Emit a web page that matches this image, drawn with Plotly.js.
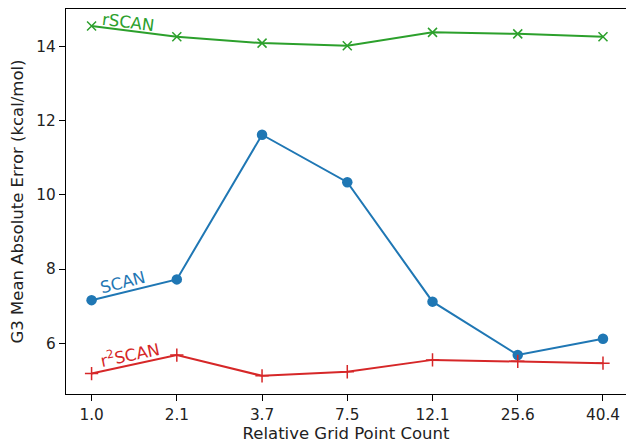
<!DOCTYPE html>
<html>
<head>
<meta charset="utf-8">
<script src="https://cdn.plot.ly/plotly-3.0.1.min.js"></script>
<style>html,body{margin:0;padding:0;background:#fff;}#chart{width:626px;height:443px;}</style>
</head>
<body>
<div id="chart"></div>
<script>
const categories = ["1.0", "2.1", "3.7", "7.5", "12.1", "25.6", "40.4"];
const rscan = [14.55, 14.26, 14.09, 14.02, 14.38, 14.34, 14.26];
const scan = [7.16, 7.72, 11.62, 10.34, 7.12, 5.68, 6.12];
const r2scan = [5.18, 5.68, 5.12, 5.23, 5.55, 5.51, 5.46];

const tickFont = {family: "DejaVu Sans", size: 15.3, color: "#222"};
const titleFont = {family: "DejaVu Sans", size: 16.5, color: "#222"};

const traces = [
  {x: categories, y: scan, type: "scatter", mode: "lines+markers", name: "SCAN",
   line: {color: "#1f77b4", width: 2}, marker: {symbol: "circle", size: 10.5, color: "#1f77b4"}},
  {x: categories, y: r2scan, type: "scatter", mode: "lines+markers", name: "r2SCAN",
   line: {color: "#d62728", width: 2}, marker: {symbol: "cross-thin", size: 9.5, line: {color: "#d62728", width: 1.5}}},
  {x: categories, y: rscan, type: "scatter", mode: "lines+markers", name: "rSCAN",
   line: {color: "#2ca02c", width: 2}, marker: {symbol: "x-thin", size: 9, line: {color: "#2ca02c", width: 1.5}}}
];

const layout = {
  width: 626, height: 443,
  margin: {l: 66, r: 0, t: 9, b: 49},
  paper_bgcolor: "#fff", plot_bgcolor: "#fff",
  showlegend: false,
  font: tickFont,
  xaxis: {
    type: "category", range: [-0.3, 6.27],
    showgrid: false, zeroline: false,
    showline: true, linecolor: "#000", linewidth: 1.2, mirror: true,
    ticks: "outside", ticklen: 6, tickwidth: 1, tickcolor: "#000",
    tickfont: tickFont,
    title: {text: "Relative Grid Point Count", font: titleFont, standoff: 4}
  },
  yaxis: {
    range: [4.63, 15.01],
    tickvals: [6, 8, 10, 12, 14],
    showgrid: false, zeroline: false,
    showline: true, linecolor: "#000", linewidth: 1.2,
    ticks: "outside", ticklen: 6, tickwidth: 1, tickcolor: "#000",
    tickfont: tickFont,
    title: {text: "G3 Mean Absolute Error (kcal/mol)", font: titleFont, standoff: 8}
  },
  annotations: [
    {x: 0.43, y: 14.65, xref: "x", yref: "y", text: "rSCAN", showarrow: false, textangle: 7,
     font: {family: "DejaVu Sans", size: 16.5, color: "#2ca02c"}},
    {x: 0.37, y: 7.64, xref: "x", yref: "y", text: "SCAN", showarrow: false, textangle: -14,
     font: {family: "DejaVu Sans", size: 16.5, color: "#1f77b4"}},
    {x: 0.45, y: 5.70, xref: "x", yref: "y", text: "r<sup>2</sup>SCAN", showarrow: false, textangle: -12,
     font: {family: "DejaVu Sans", size: 16.5, color: "#d62728"}}
  ]
};

Plotly.newPlot("chart", traces, layout, {displayModeBar: false, staticPlot: true});
</script>
</body>
</html>
